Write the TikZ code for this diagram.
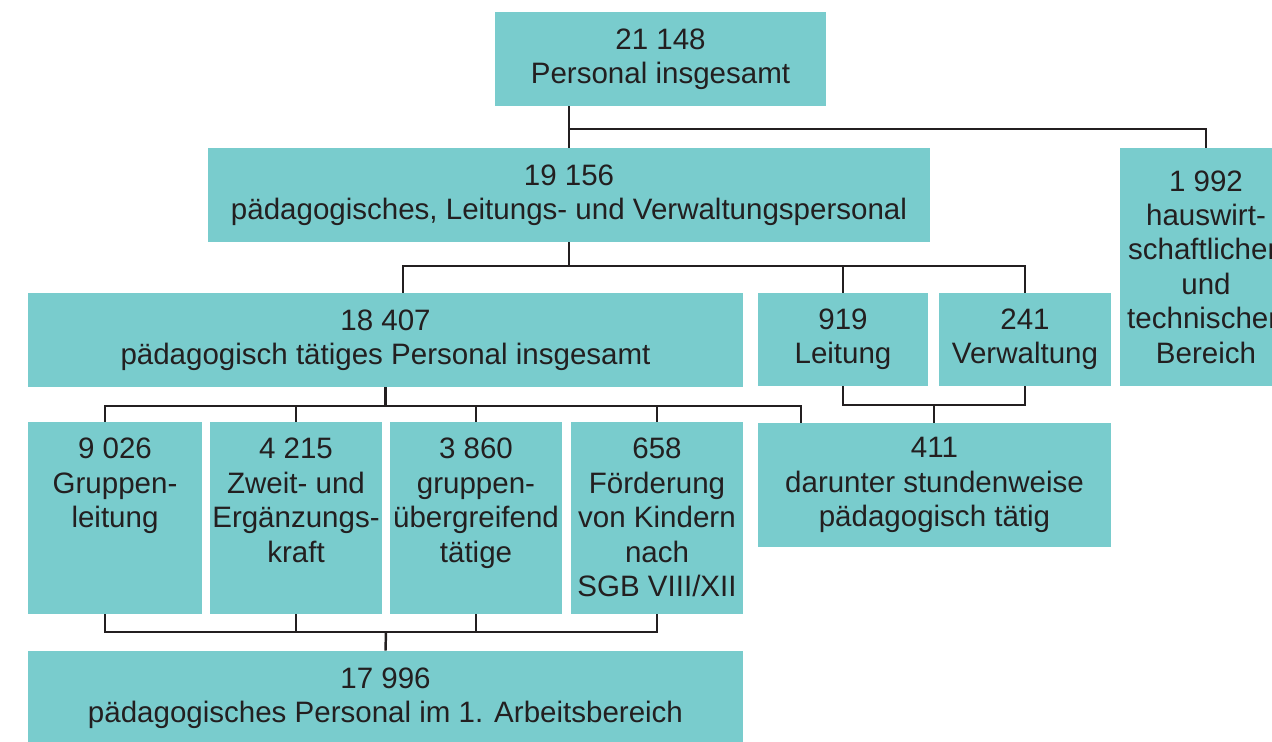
\documentclass[tikz,border=0pt]{standalone}
\usepackage{fontspec}
\setmainfont{Liberation Sans}
\definecolor{kita}{RGB}{121,204,205}
\definecolor{ink}{RGB}{35,31,32}

\begin{document}
\begin{tikzpicture}[x=0.02cm, y=-0.02cm,
  box/.style={fill=kita, inner sep=0, text=ink, align=center, font=\fontsize{16.8}{19.6}\selectfont},
  txt/.style={inner sep=0, text=ink, align=center, font=\fontsize{16.8}{19.6}\selectfont},
  conn/.style={draw=ink, line width=1.4pt}]
\useasboundingbox (0,0) rectangle (1272,741);

\node[box, minimum width=6.62cm, minimum height=1.88cm] (gesamt) at (660.5,59) {21 148\\Personal insgesamt};
\node[box, minimum width=14.44cm, minimum height=1.88cm] (paed) at (569,195) {19 156\\pädagogisches, Leitungs- und Verwaltungspersonal};
\node[box, minimum width=3.44cm, minimum height=4.76cm] (haus) at (1206,267) {1 992\\hauswirt-\\schaftlichen\\und\\technischen\\Bereich};

\node[box, minimum width=14.3cm, minimum height=1.88cm] (taetig) at (385.5,340) {18 407\\pädagogisch tätiges Personal insgesamt};
\node[box, minimum width=3.4cm, minimum height=1.86cm] (leitung) at (843,339.5) {919\\Leitung};
\node[box, minimum width=3.44cm, minimum height=1.86cm] (verwaltung) at (1025,339.5) {241\\Verwaltung};

\node[box, minimum width=3.48cm, minimum height=3.84cm] (gruppe) at (115,518) {};
\node[box, minimum width=3.44cm, minimum height=3.84cm] (zweit) at (296,518) {};
\node[box, minimum width=3.44cm, minimum height=3.84cm] (uebergr) at (476,518) {};
\node[box, minimum width=3.44cm, minimum height=3.84cm] (foerder) at (657,518) {};
\node[txt, anchor=north] (gruppe-t) at (115,438) {9 026\\Gruppen-\\leitung};
\node[txt, anchor=north] (zweit-t) at (296,438) {4 215\\Zweit- und\\Ergänzungs-\\kraft};
\node[txt, anchor=north] (uebergr-t) at (476,438) {3 860\\gruppen-\\übergreifend\\tätige};
\node[txt, anchor=north] (foerder-t) at (657,438) {658\\Förderung\\von Kindern\\nach\\SGB VIII/XII};
\node[box, minimum width=7.06cm, minimum height=2.48cm] (stunden) at (934.5,485) {411\\darunter stundenweise\\pädagogisch tätig};

\node[box, minimum width=14.3cm, minimum height=1.88cm] (arbeit) at (385.5,698) {17 996\\pädagogisches Personal im 1. Arbeitsbereich};

\coordinate (k1) at (569,129);
\draw[conn] (gesamt.south -| paed.north) -- (paed.north);
\draw[conn] (k1) -| (haus.north);

\coordinate (k2) at (403,266);
\draw[conn] (paed.south) -- (paed.south |- k2);
\draw[conn] (k2 |- taetig.north) -- (k2) -| (verwaltung.north);
\draw[conn] (leitung.north) -- (leitung.north |- k2);

\coordinate (k3) at (105,406);
\coordinate (k3r) at (801,406);
\draw[conn] (taetig.south) -- (taetig.south |- k3);
\draw[conn] (k3 |- gruppe.north) -- (k3) -- (k3r) -- (k3r |- stunden.north);
\foreach \n in {zweit, uebergr, foerder}
  \draw[conn] (\n.north) -- (\n.north |- k3);

\coordinate (k4) at (934,405);
\draw[conn] (leitung.south) |- (k4) -| (verwaltung.south);
\draw[conn] (k4) -- (k4 |- stunden.north);

\coordinate (k5) at (386,632);
\draw[conn] (k3 |- gruppe.south) -- (k3 |- k5) -- (foerder.south |- k5) -- (foerder.south);
\foreach \n in {zweit, uebergr}
  \draw[conn] (\n.south) -- (\n.south |- k5);
\draw[conn] (k5) -- (arbeit.north);
\end{tikzpicture}
\end{document}
